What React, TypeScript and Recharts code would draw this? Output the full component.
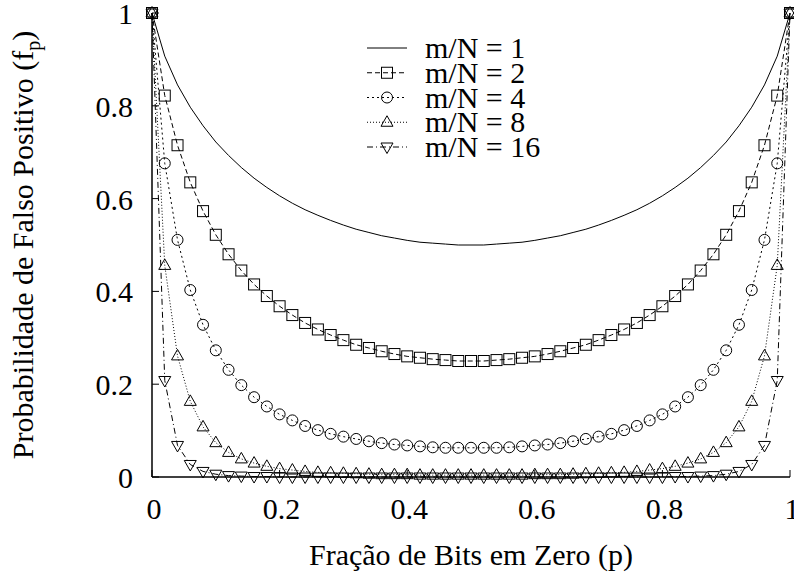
import { LineChart, Line, XAxis, YAxis, Legend } from 'recharts';

// fração de bits em zero (p), passo 0.02
const pValues = [
  0, 0.02, 0.04, 0.06, 0.08, 0.1, 0.12, 0.14, 0.16, 0.18, 0.2, 0.22, 0.24, 0.26, 0.28, 0.3, 0.32,
  0.34, 0.36, 0.38, 0.4, 0.42, 0.44, 0.46, 0.48, 0.5, 0.52, 0.54, 0.56, 0.58, 0.6, 0.62, 0.64, 0.66,
  0.68, 0.7, 0.72, 0.74, 0.76, 0.78, 0.8, 0.82, 0.84, 0.86, 0.88, 0.9, 0.92, 0.94, 0.96, 0.98, 1,
];

const fpMN1 = [
  1, 0.907, 0.845, 0.797, 0.757, 0.722, 0.693, 0.667, 0.644, 0.624, 0.606, 0.59, 0.576, 0.564, 0.553,
  0.543, 0.534, 0.527, 0.52, 0.515, 0.51, 0.506, 0.504, 0.502, 0.5, 0.5, 0.5, 0.502, 0.504, 0.506, 0.51,
  0.515, 0.52, 0.527, 0.534, 0.543, 0.553, 0.564, 0.576, 0.59, 0.606, 0.624, 0.644, 0.667, 0.693, 0.722,
  0.757, 0.797, 0.845, 0.907, 1,
];

const fpMN2 = [
  1, 0.822, 0.715, 0.635, 0.573, 0.522, 0.48, 0.445, 0.415, 0.39, 0.368, 0.349, 0.332, 0.318, 0.306,
  0.295, 0.285, 0.278, 0.271, 0.265, 0.26, 0.257, 0.254, 0.252, 0.25, 0.25, 0.25, 0.252, 0.254, 0.257,
  0.26, 0.265, 0.271, 0.278, 0.285, 0.295, 0.306, 0.318, 0.332, 0.349, 0.368, 0.39, 0.415, 0.445, 0.48,
  0.522, 0.573, 0.635, 0.715, 0.822, 1,
];

const fpMN4 = [
  1, 0.676, 0.511, 0.403, 0.328, 0.273, 0.231, 0.198, 0.172, 0.152, 0.135, 0.122, 0.11, 0.101, 0.093,
  0.087, 0.082, 0.077, 0.073, 0.07, 0.068, 0.066, 0.064, 0.063, 0.063, 0.063, 0.063, 0.063, 0.064, 0.066,
  0.068, 0.07, 0.073, 0.077, 0.082, 0.087, 0.093, 0.101, 0.11, 0.122, 0.135, 0.152, 0.172, 0.198, 0.231,
  0.273, 0.328, 0.403, 0.511, 0.676, 1,
];

const fpMN8 = [
  1, 0.456, 0.261, 0.163, 0.108, 0.074, 0.053, 0.039, 0.03, 0.023, 0.018, 0.015, 0.012, 0.01, 0.009,
  0.008, 0.007, 0.006, 0.005, 0.005, 0.005, 0.004, 0.004, 0.004, 0.004, 0.004, 0.004, 0.004, 0.004,
  0.004, 0.005, 0.005, 0.005, 0.006, 0.007, 0.008, 0.009, 0.01, 0.012, 0.015, 0.018, 0.023, 0.03, 0.039,
  0.053, 0.074, 0.108, 0.163, 0.261, 0.456, 1,
];

const fpMN16 = [
  1, 0.208, 0.068, 0.027, 0.012, 0.006, 0.003, 0.002, 0.001, 0.001, 0, 0, 0, 0, 0, 0, 0, 0, 0, 0, 0, 0,
  0, 0, 0, 0, 0, 0, 0, 0, 0, 0, 0, 0, 0, 0, 0, 0, 0, 0, 0, 0.001, 0.001, 0.002, 0.003, 0.006, 0.012,
  0.027, 0.068, 0.208, 1,
];

const seriesLabels = ['m/N = 1', 'm/N = 2', 'm/N = 4', 'm/N = 8', 'm/N = 16'];
const xTicks = [0, 0.2, 0.4, 0.6, 0.8, 1];
const yTicks = [0, 0.2, 0.4, 0.6, 0.8, 1];

const data = pValues.map((p, i) => ({
  p,
  mn1: fpMN1[i],
  mn2: fpMN2[i],
  mn4: fpMN4[i],
  mn8: fpMN8[i],
  mn16: fpMN16[i],
}));

const FONT = '"Liberation Serif", "DejaVu Serif", serif';
const INK = '#000';

type Shape = 'none' | 'square' | 'circle' | 'up' | 'down';

const series: { key: string; shape: Shape; dash?: string }[] = [
  { key: 'mn1', shape: 'none' },
  { key: 'mn2', shape: 'square', dash: '5 3' },
  { key: 'mn4', shape: 'circle', dash: '2 3' },
  { key: 'mn8', shape: 'up', dash: '1 2' },
  { key: 'mn16', shape: 'down', dash: '6 3 1 3' },
];

function Marker({ shape, cx, cy }: { shape: Shape; cx: number; cy: number }) {
  const st = { fill: 'none', stroke: INK, strokeWidth: 1 };
  if (shape === 'square') return <rect x={cx - 5.5} y={cy - 5.5} width={11} height={11} {...st} />;
  if (shape === 'circle') return <circle cx={cx} cy={cy} r={5.5} {...st} />;
  if (shape === 'up') return <polygon points={`${cx},${cy - 6.5} ${cx + 6},${cy + 4} ${cx - 6},${cy + 4}`} {...st} />;
  if (shape === 'down') return <polygon points={`${cx},${cy + 6.5} ${cx + 6},${cy - 4} ${cx - 6},${cy - 4}`} {...st} />;
  return null;
}

const LeftTick = ({ x, y, payload }: any) => (
  <g>
    <line x1={x} x2={x + 7} y1={y} y2={y} stroke={INK} strokeWidth={1} />
    <text x={x - 19} y={y + 11} textAnchor="end" fontSize={30} fontFamily={FONT} fill={INK}>
      {String(payload.value)}
    </text>
  </g>
);

const BottomTick = ({ x, y, payload }: any) => (
  <g>
    <line x1={x} x2={x} y1={y} y2={y - 7} stroke={INK} strokeWidth={1} />
    <text x={x + 2} y={y + 42} textAnchor="middle" fontSize={30} fontFamily={FONT} fill={INK}>
      {String(payload.value)}
    </text>
  </g>
);

const TopTick = ({ x, y }: any) => <line x1={x} x2={x} y1={y} y2={y + 7} stroke={INK} strokeWidth={1} />;
const RightTick = ({ x, y }: any) => <line x1={x} x2={x - 7} y1={y} y2={y} stroke={INK} strokeWidth={1} />;

function LegendBox() {
  return (
    <svg width={200} height={140} style={{ overflow: 'visible' }}>
      {series.map((s, i) => {
        const cy = 18 + i * 24.75;
        return (
          <g key={s.key}>
            <line x1={7} x2={47} y1={cy} y2={cy} stroke={INK} strokeWidth={1} strokeDasharray={s.dash} />
            <Marker shape={s.shape} cx={27} cy={cy} />
            <text x={65} y={cy + 10} fontSize={30} fontFamily={FONT} fill={INK}>
              {seriesLabels[i]}
            </text>
          </g>
        );
      })}
    </svg>
  );
}

export default function App() {
  return (
    <div style={{ position: 'absolute', left: 0, top: 0, width: 794, height: 574, background: '#fff' }}>
      <LineChart width={794} height={574} data={data} margin={{ top: 13, right: 4, bottom: 0, left: 0 }}>
        <XAxis
          dataKey="p"
          type="number"
          domain={[0, 1]}
          ticks={xTicks}
          height={97}
          tickSize={0}
          tickMargin={0}
          tickLine={false}
          axisLine={{ stroke: INK, strokeWidth: 1.5 }}
          tick={<BottomTick />}
          label={{
            content: ({ viewBox }: any) => (
              <text
                x={viewBox.x + viewBox.width / 2}
                y={viewBox.y + 88}
                textAnchor="middle"
                fontSize={30}
                fontFamily={FONT}
                fill={INK}
              >
                Fração de Bits em Zero (p)
              </text>
            ),
          }}
        />
        <XAxis
          xAxisId="top"
          orientation="top"
          dataKey="p"
          type="number"
          domain={[0, 1]}
          ticks={xTicks}
          height={0}
          tickSize={0}
          tickMargin={0}
          tickLine={false}
          axisLine={{ stroke: INK, strokeWidth: 1.5 }}
          tick={<TopTick />}
        />
        <YAxis
          type="number"
          domain={[0, 1]}
          ticks={yTicks}
          width={152}
          tickSize={0}
          tickMargin={0}
          tickLine={false}
          axisLine={{ stroke: INK, strokeWidth: 1.5 }}
          tick={<LeftTick />}
          label={{
            content: ({ viewBox }: any) => {
              const cy = viewBox.y + viewBox.height / 2;
              return (
                <text
                  x={33}
                  y={cy}
                  transform={`rotate(-90 33 ${cy})`}
                  textAnchor="middle"
                  fontSize={30}
                  fontFamily={FONT}
                  fill={INK}
                >
                  Probabilidade de Falso Positivo (f
                  <tspan fontSize={20} dy={7}>p</tspan>
                  <tspan dy={-7}>)</tspan>
                </text>
              );
            },
          }}
        />
        <YAxis
          yAxisId="right"
          orientation="right"
          type="number"
          domain={[0, 1]}
          ticks={yTicks}
          width={0}
          tickSize={0}
          tickMargin={0}
          tickLine={false}
          axisLine={{ stroke: INK, strokeWidth: 1.5 }}
          tick={<RightTick />}
        />
        <Legend
          layout="vertical"
          align="center"
          verticalAlign="middle"
          wrapperStyle={{ left: 360, top: 30, width: 200, height: 140 }}
          content={() => <LegendBox />}
        />
        {series.map((s, i) => (
          <Line
            key={s.key}
            name={seriesLabels[i]}
            dataKey={s.key}
            type="linear"
            stroke={INK}
            strokeWidth={1}
            strokeDasharray={s.dash}
            isAnimationActive={false}
            dot={
              s.shape === 'none'
                ? false
                : (props: any) => <Marker key={`${s.key}-${props.index}`} shape={s.shape} cx={props.cx} cy={props.cy} />
            }
            activeDot={false}
          />
        ))}
      </LineChart>
    </div>
  );
}
